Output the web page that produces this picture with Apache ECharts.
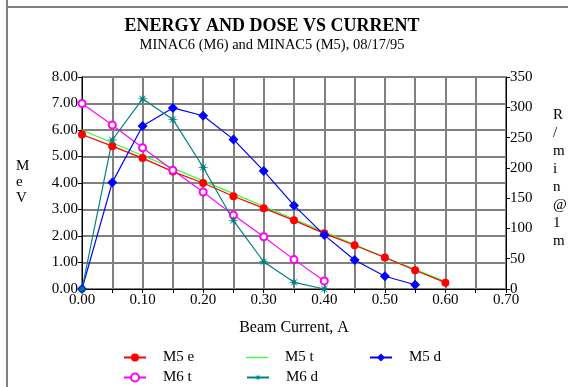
<!DOCTYPE html>
<html>
<head>
<meta charset="utf-8">
<script src="https://cdn.jsdelivr.net/npm/echarts@6/dist/echarts.min.js"></script>
<style>
html,body{margin:0;padding:0;background:#fff;}
#chart{width:568px;height:387px;}
</style>
</head>
<body>
<div id="chart"></div>
<script>
// ---- data ----
const current = [0.00,0.05,0.10,0.15,0.20,0.25,0.30,0.35,0.40,0.45,0.50,0.55,0.60];
const m5e = [5.83,5.39,4.94,4.43,4.00,3.50,3.05,2.59,2.10,1.65,1.19,0.71,0.24];
const m5t = [6.00,5.52,5.04,4.56,4.08,3.60,3.12,2.64,2.16,1.68,1.20,0.74,0.28];
const m6t = [7.00,6.19,5.33,4.48,3.66,2.79,1.97,1.11,0.30];
const m5d = [0,176,269,299,286,247,195,138,89,48,21,7];
const m6d = [0,246,314,280,201,113,45,11,0];
const xTicks = ['0.00','0.10','0.20','0.30','0.40','0.50','0.60','0.70'];

function pairs(ys){ return ys.map((v,i)=>[current[i], v]); }

// asterisk-like star symbol shape
function starPath(n, rIn){
  let d = '';
  for (let i = 0; i < 2*n; i++){
    const r = (i % 2 === 0) ? 1 : rIn;
    const a = Math.PI * i / n - Math.PI/2;
    const x = (r*Math.cos(a)).toFixed(3), y = (r*Math.sin(a)).toFixed(3);
    d += (i === 0 ? 'M' : 'L') + x + ' ' + y + ' ';
  }
  return 'path://' + d + 'Z';
}

const serif = '"Liberation Serif","DejaVu Serif",serif';
const chart = echarts.init(document.getElementById('chart'), null, {renderer:'canvas'});

function leg(name, left, top, extra){
  return Object.assign({
    data:[name], left:left, top:top, padding:0, orient:'horizontal',
    itemWidth:22, itemHeight:10, selectedMode:false,
    textStyle:{fontFamily:serif, fontSize:15, color:'#000', padding:[0,0,0,12]}
  }, extra || {});
}

const option = {
  backgroundColor:'#fff',
  animation:false,
  title:[
    {text:'ENERGY AND DOSE VS CURRENT', left:267, top:12, textAlign:'center',
     textStyle:{fontFamily:serif, fontSize:18, fontWeight:'bold', color:'#000'}},
    {text:'MINAC6 (M6) and MINAC5 (M5), 08/17/95', left:267, top:33, textAlign:'center',
     textStyle:{fontFamily:serif, fontSize:14.5, fontWeight:'normal', color:'#000'}}
  ],
  legend:[
    leg('M5 e',123,350), leg('M5 t',246,350,{icon:'rect', itemHeight:1.3}), leg('M5 d',369,350),
    leg('M6 t',123,370), leg('M6 d',246,370)
  ],
  grid:{left:82, right:62, top:77, bottom:98, containLabel:false},
  xAxis:{
    type:'value', min:0, max:0.7, interval:0.05,
    name:'Beam Current, A', nameLocation:'middle', nameGap:31,
    nameTextStyle:{fontFamily:serif, fontSize:16, color:'#000'},
    axisLine:{lineStyle:{color:'#000', width:1}},
    axisTick:{show:true, length:4, lineStyle:{color:'#000'}},
    axisLabel:{fontFamily:serif, fontSize:15, color:'#000', margin:4,
      formatter:function(v){ const k = Math.round(v*100); return (k % 10 === 0) ? xTicks[k/10] : ''; }},
    splitLine:{show:true, lineStyle:{color:'#808080', width:2}}
  },
  yAxis:[
    {type:'value', min:0, max:8, interval:1, position:'left',
     axisLine:{show:true, lineStyle:{color:'#000', width:1}},
     axisTick:{show:true, length:4, lineStyle:{color:'#000'}},
     axisLabel:{fontFamily:serif, fontSize:15, color:'#000', margin:4,
       formatter:function(v){ return v.toFixed(2); }},
     splitLine:{show:true, lineStyle:{color:'#808080', width:2}}},
    {type:'value', min:0, max:350, interval:50, position:'right',
     axisLine:{show:true, lineStyle:{color:'#000', width:1}},
     axisTick:{show:true, length:4, lineStyle:{color:'#000'}},
     axisLabel:{fontFamily:serif, fontSize:15, color:'#000', margin:4},
     splitLine:{show:false}}
  ],
  graphic:[
    {type:'line', shape:{x1:7, y1:0, x2:7, y2:387}, style:{stroke:'#808080', lineWidth:2}, silent:true},
    {type:'line', shape:{x1:6, y1:7, x2:568, y2:7}, style:{stroke:'#808080', lineWidth:2}, silent:true},
    {type:'text', left:16, top:158, style:{text:'M\ne\nV', font:'15px '+serif, fill:'#000', align:'center', lineHeight:16}},
    {type:'text', left:553, top:106, style:{text:'R\n/\nm\ni\nn\n@\n1\nm', font:'15px '+serif, fill:'#000', align:'center', lineHeight:18}}
  ],
  series:[
    {name:'M5 t', type:'line', yAxisIndex:0, data:pairs(m5t), symbol:'none',
     lineStyle:{color:'#33ff33', width:1.2}, itemStyle:{color:'#33ff33'}, z:2},
    {name:'M5 e', type:'line', yAxisIndex:0, data:pairs(m5e), symbol:'circle', symbolSize:8,
     lineStyle:{color:'#ff0000', width:1.2}, itemStyle:{color:'#ff0000'}, z:3},
    {name:'M6 t', type:'line', yAxisIndex:0, data:pairs(m6t), symbol:'emptyCircle', symbolSize:7,
     lineStyle:{color:'#ff00ff', width:1.1}, itemStyle:{color:'#ff00ff', borderColor:'#ff00ff', borderWidth:1}, z:3},
    {name:'M5 d', type:'line', yAxisIndex:1, data:pairs(m5d), symbol:'diamond', symbolSize:10,
     lineStyle:{color:'#0000ff', width:1.2}, itemStyle:{color:'#0000ff'}, z:3},
    {name:'M6 d', type:'line', yAxisIndex:1, data:pairs(m6d), symbol:starPath(8,0.3), symbolSize:11,
     lineStyle:{color:'#008080', width:1.2}, itemStyle:{color:'#008080'}, z:3}
  ]
};
chart.setOption(option);
</script>
</body>
</html>
